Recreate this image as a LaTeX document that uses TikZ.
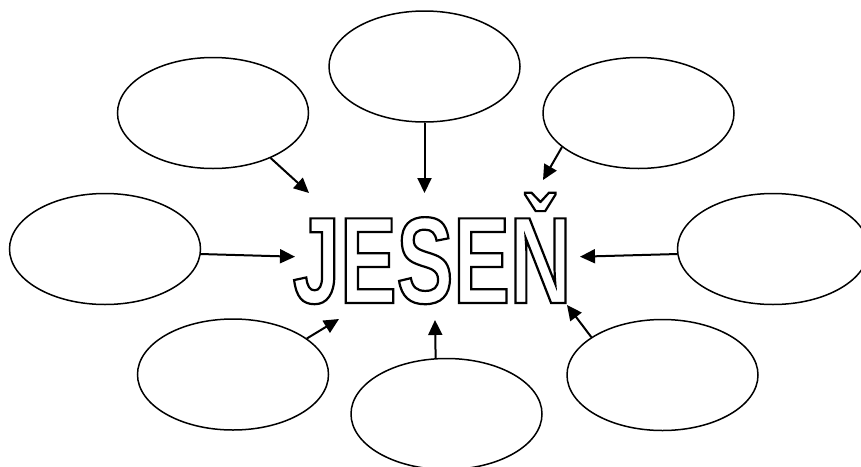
\documentclass[tikz,border=0pt]{standalone}
\usepackage{fontspec}
\usepackage{tikz}
\usetikzlibrary{arrows.meta}
\usetikzlibrary{shapes}
\newfontfamily\TitleFont{Liberation Sans}[FakeStretch=0.69]
\newcommand\OutlineText[1]{\special{pdf:literal direct 1 Tr 2.2 w}#1\special{pdf:literal direct 0 Tr}}

\begin{document}
\begin{tikzpicture}[x=1pt,y=-1pt]
\tikzset{Bubble/.style={
  draw=black,
  ellipse,
  line width=1.5pt,
  minimum width=191pt,
  minimum height=111pt,
}}
\tikzset{Pointer/.style={
  line width=2pt,
  -{Triangle[length=15pt,width=14pt]},
}}
\tikzset{Title/.style={
  inner sep=0pt,
  font=\TitleFont\bfseries\fontsize{123pt}{123pt}\selectfont,
}}

\useasboundingbox (0,0) rectangle (861,466);

% the word in the middle
\node[Title, anchor=base] (title) at (432,303) {\OutlineText{JESEŇ}};

% bubbles round it
\node[Bubble] (topleft) at (213,113) {};
\node[Bubble] (topcenter) at (424.5,66.5) {};
\node[Bubble] (topright) at (638.5,113) {};
\node[Bubble] (left) at (105,249) {};
\node[Bubble] (right) at (773,249) {};
\node[Bubble] (bottomleft) at (233,374.5) {};
\node[Bubble] (bottomcenter) at (446.5,414) {};
\node[Bubble] (bottomright) at (662.5,375) {};

% where the arrows end
\coordinate (topleftTip) at (309,193);
\coordinate (topcenterTip) at (424.5,193);
\coordinate (toprightTip) at (543,180);
\coordinate (leftTip) at (295,256.7);
\coordinate (rightTip) at (580,256.7);
\coordinate (bottomleftTip) at (339,319);
\coordinate (bottomcenterTip) at (435,320);
\coordinate (bottomrightTip) at (567,305);

\draw[Pointer] (topleft.322) -- (topleftTip);
\draw[Pointer] (topcenter.south) -- (topcenterTip);
\draw[Pointer] (topright.204) -- (toprightTip);
\draw[Pointer] (left.357) -- (leftTip);
\draw[Pointer] (right.183.4) -- (rightTip);
\draw[Pointer] (bottomleft.26) -- (bottomleftTip);
\draw[Pointer] (bottomcenter.101) -- (bottomcenterTip);
\draw[Pointer] (bottomright.152) -- (bottomrightTip);
\end{tikzpicture}
\end{document}
